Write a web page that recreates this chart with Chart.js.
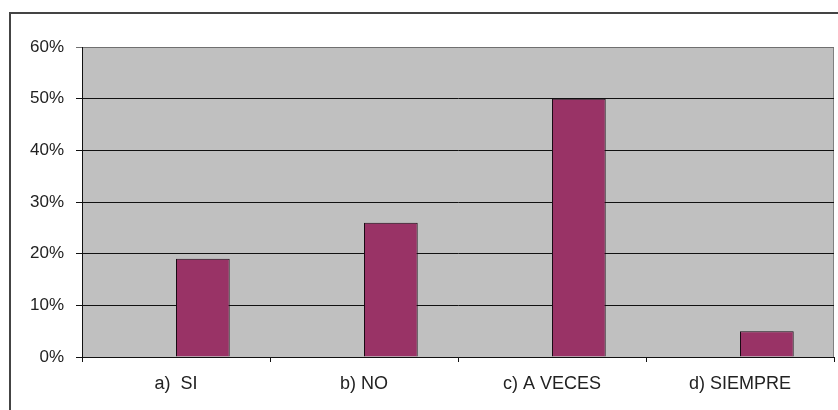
<!DOCTYPE html>
<html>
<head>
<meta charset="utf-8">
<script src="https://cdn.jsdelivr.net/npm/chart.js@4/dist/chart.umd.min.js"></script>
<style>
  html, body { margin: 0; padding: 0; background: #fff; overflow: hidden; width: 838px; height: 410px; }
  #frame { position: absolute; left: 9px; top: 12px; width: 900px; height: 500px; border: 2px solid #444; box-sizing: border-box; }
  #c { position: absolute; left: 0; top: 0; }
</style>
</head>
<body>
<div id="frame"></div>
<canvas id="c" width="838" height="410"></canvas>
<script>
const categories = ['a)  SI', 'b) NO', 'c) A VECES', 'd) SIEMPRE'];
const emptySeries = [null, null, null, null];
const answerValues = [19, 26, 50, 5];
const yTicks = [0, 10, 20, 30, 40, 50, 60];

const plotBg = {
  id: 'plotBg',
  beforeDraw(chart) {
    const a = chart.chartArea, ctx = chart.ctx;
    ctx.save();
    ctx.fillStyle = '#C0C0C0';
    ctx.fillRect(a.left, a.top, a.right - a.left, a.bottom - a.top);
    ctx.strokeStyle = '#808080';
    ctx.lineWidth = 1;
    ctx.beginPath();
    ctx.moveTo(a.left, a.top + 0.5);
    ctx.lineTo(a.right - 0.5, a.top + 0.5);
    ctx.lineTo(a.right - 0.5, a.bottom);
    ctx.stroke();
    ctx.restore();
  }
};

new Chart(document.getElementById('c'), {
  type: 'bar',
  data: {
    labels: categories,
    datasets: [
      { label: 'Serie 1', data: emptySeries, backgroundColor: '#9999FF' },
      { label: 'Serie 2', data: answerValues, backgroundColor: '#993366', borderColor: '#1a0a14', borderWidth: 1 }
    ]
  },
  options: {
    responsive: false,
    animation: false,
    layout: { padding: { top: 47, right: 4, left: 0, bottom: 0 } },
    plugins: { legend: { display: false }, tooltip: { enabled: false } },
    datasets: { bar: { categoryPercentage: 2 / 3.5, barPercentage: 1 } },
    scales: {
      x: {
        grid: { drawOnChartArea: false, drawTicks: true, tickLength: 5, color: '#111', offset: true },
        border: { color: '#111', width: 1 },
        ticks: { color: '#222', font: { family: 'Liberation Sans, Arial', size: 18 }, padding: 11, maxRotation: 0 },
        afterFit(s) { s.height = 53; }
      },
      y: {
        min: 0, max: 60,
        afterBuildTicks(s) { s.ticks = yTicks.map(v => ({ value: v })); },
        grid: {
          color: (c) => (c.tick && c.tick.value === 60 ? '#707070' : '#111'),
          tickLength: 6, lineWidth: 1
        },
        border: { color: '#111', width: 1 },
        ticks: { color: '#222', font: { family: 'Liberation Sans, Arial', size: 17 }, padding: 12, callback: (v) => v + '%' },
        afterFit(s) { s.width = 82; }
      }
    }
  },
  plugins: [plotBg]
});
</script>
</body>
</html>
